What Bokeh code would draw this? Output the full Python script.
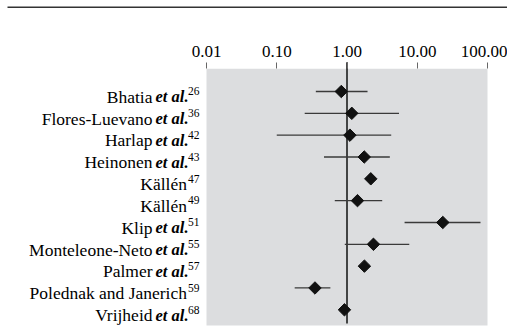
import numpy as np
from bokeh.plotting import figure
from bokeh.models import ColumnDataSource, Range1d, FixedTicker, CustomJSTickFormatter
from bokeh.core.properties import value
from bokeh.embed import file_html
from bokeh.resources import INLINE

# ---- data ----
studies = ["Bhatia", "Flores-Luevano", "Harlap", "Heinonen", "Källén", "Källén",
           "Klip", "Monteleone-Neto", "Palmer", "Polednak and Janerich", "Vrijheid"]
has_etal = [True, True, True, True, False, False, True, True, True, False, True]
refs = ["26", "36", "42", "43", "47", "49", "51", "55", "57", "59", "68"]
odds_ratio = [0.83, 1.17, 1.10, 1.76, 2.18, 1.41, 23.1, 2.38, 1.77, 0.35, 0.92]
ci_lower = [0.36, 0.25, 0.10, 0.47, 1.85, 0.67, 6.6, 0.93, 1.50, 0.18, 0.80]
ci_upper = [1.96, 5.5, 4.26, 4.07, 2.55, 3.17, 79.5, 7.7, 2.10, 0.58, 1.05]
tick_values = [0.01, 0.1, 1, 10, 100]
tick_labels = ["0.01", "0.10", "1.00", "10.00", "100.00"]

# ---- layout geometry (pixels) ----
W, H = 507, 329
row_px = 21.83        # spacing between rows
first_row_px = 91.0   # first row centre from figure top
px_per_decade = 70.25
one_px = 346.5        # x pixel of value 1.0


def y_of(px):
    return (px - first_row_px) / row_px


def x_of(px):
    return 10 ** ((px - one_px) / px_per_decade)


x_lo = x_of(0)
x_hi = x_of(W)
y_top = y_of(0)
y_bot = y_of(H)

n = len(studies)
rows = list(range(n))

p = figure(width=W, height=H, x_axis_type="log",
           x_range=Range1d(x_lo, x_hi), y_range=Range1d(y_bot, y_top),
           x_axis_location="above", y_axis_location=None,
           toolbar_location=None, output_backend="svg", min_border=0)
p.min_border_left = p.min_border_right = p.min_border_top = p.min_border_bottom = 0
p.outline_line_color = None
p.xgrid.visible = False
p.ygrid.visible = False
p.background_fill_color = "white"
p.border_fill_color = "white"

# top rule
p.segment(x0=x_of(7), x1=x_hi, y0=y_of(6.8), y1=y_of(6.8), line_color="#333333", line_width=1.5)

# grey panel
p.quad(left=min(tick_values), right=max(tick_values), top=y_of(68.3), bottom=y_of(325),
       fill_color="#dcdddf", line_color=None)

# reference line at OR = 1
p.segment(x0=1, x1=1, y0=y_of(61.7), y1=y_of(323), line_color="#111111", line_width=1.5)

src = ColumnDataSource(dict(row=rows, or_=odds_ratio, lo=ci_lower, hi=ci_upper))
p.segment(x0="lo", x1="hi", y0="row", y1="row", source=src,
          line_color="#3a3a3a", line_width=1.3)
p.scatter("or_", "row", source=src, marker="square", angle=np.pi / 4, size=8.8,
          fill_color="#111111", line_color="#111111")

# axis on top
ax = p.xaxis[0]
ax.fixed_location = y_of(67.7)
ax.ticker = FixedTicker(ticks=tick_values)
ax.formatter = CustomJSTickFormatter(args=dict(labels=tick_labels), code="return labels[index];")
ax.axis_line_color = None
ax.major_tick_line_color = "#666666"
ax.major_tick_out = 6
ax.major_tick_in = 0
ax.minor_tick_line_color = None
ax.major_label_text_font = "Liberation Serif"
ax.major_label_text_font_size = "17px"
ax.major_label_text_color = "#000000"
ax.major_label_standoff = 5

# study labels
x_anchor = min(tick_values)
name_src = ColumnDataSource(dict(
    x=[x_anchor] * n, row=rows, name=studies,
    off=[-54 if e else -19.5 for e in has_etal]))
p.text(x="x", y="row", text="name", x_offset="off", y_offset=5.3, source=name_src,
       text_align="right", text_baseline="alphabetic",
       text_font=value("Liberation Serif"), text_font_size="17.5px", text_color="#000000")

etal_rows = [r for r, e in zip(rows, has_etal) if e]
etal_src = ColumnDataSource(dict(x=[x_anchor] * len(etal_rows), row=etal_rows,
                                 t=["et al."] * len(etal_rows)))
p.text(x="x", y="row", text="t", x_offset=-18, y_offset=5.3, source=etal_src,
       text_align="right", text_baseline="alphabetic",
       text_font=value("Liberation Serif"), text_font_style="bold italic",
       text_font_size="16.5px", text_color="#000000")

ref_src = ColumnDataSource(dict(x=[x_anchor] * n, row=rows, t=refs))
p.text(x="x", y="row", text="t", x_offset=-7, y_offset=-0.2, source=ref_src,
       text_align="right", text_baseline="alphabetic",
       text_font=value("Liberation Serif"), text_font_size="11.5px", text_color="#000000")

open("out.html", "w", encoding="utf-8").write(file_html(p, INLINE))
